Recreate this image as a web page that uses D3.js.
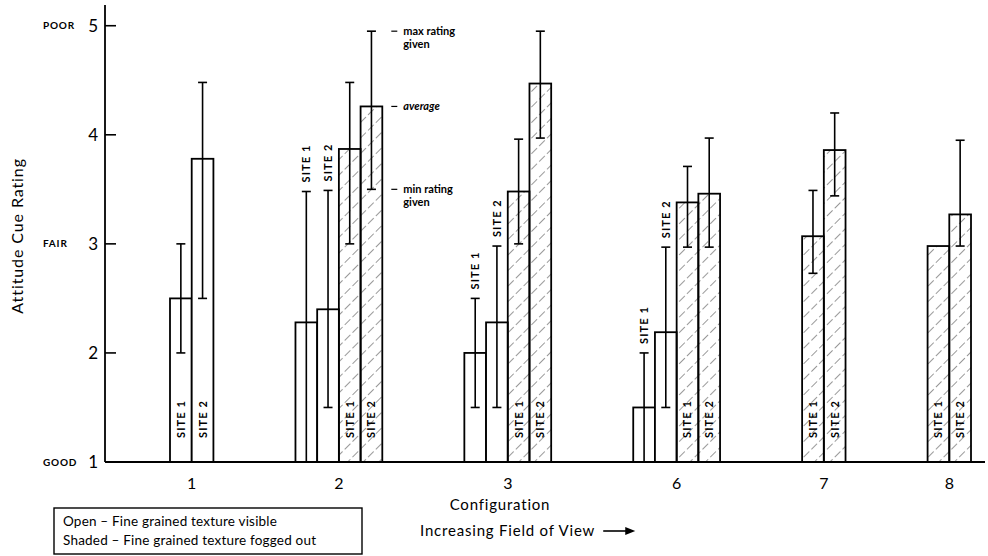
<!DOCTYPE html>
<html>
<head>
<meta charset="utf-8">
<script src="https://cdn.jsdelivr.net/npm/d3@7"></script>
<style>
body { margin: 0; background: #fff; }
svg { display: block; font-family: "Lato", "DejaVu Sans", sans-serif; }
</style>
</head>
<body>
<svg width="988" height="556"></svg>
<script>
// configurations along the x axis
const configs = ["1", "2", "3", "6", "7", "8"];

// open bars (fine grained texture visible)
const openSite1Avg = [2.5, 2.28, 2.0, 1.5, null, null];
const openSite1Min = [2.0, 1.0, 1.5, 1.0, null, null];
const openSite1Max = [3.0, 3.48, 2.5, 2.0, null, null];
const openSite2Avg = [3.78, 2.4, 2.28, 2.19, null, null];
const openSite2Min = [2.5, 1.5, 1.5, 1.5, null, null];
const openSite2Max = [4.48, 3.49, 2.98, 2.97, null, null];

// shaded bars (fine grained texture fogged out)
const shadedSite1Avg = [null, 3.87, 3.48, 3.38, 3.07, 2.98];
const shadedSite1Min = [null, 3.0, 3.0, 2.97, 2.73, null];
const shadedSite1Max = [null, 4.48, 3.96, 3.71, 3.49, null];
const shadedSite2Avg = [null, 4.26, 4.47, 3.46, 3.86, 3.27];
const shadedSite2Min = [null, 3.5, 3.97, 2.97, 3.44, 2.98];
const shadedSite2Max = [null, 4.95, 4.95, 3.97, 4.2, 3.95];

const ratingTicks = [1, 2, 3, 4, 5];
const ratingWords = ["GOOD", "", "FAIR", "", "POOR"];
const legendLines = ["Open \u2013 Fine grained texture visible", "Shaded \u2013 Fine grained texture fogged out"];
const noteLines = [["max rating", "given"], ["average"], ["min rating", "given"]];

const series = [
	{site: "SITE 1", shaded: false, avg: openSite1Avg, min: openSite1Min, max: openSite1Max},
	{site: "SITE 2", shaded: false, avg: openSite2Avg, min: openSite2Min, max: openSite2Max},
	{site: "SITE 1", shaded: true, avg: shadedSite1Avg, min: shadedSite1Min, max: shadedSite1Max},
	{site: "SITE 2", shaded: true, avg: shadedSite2Avg, min: shadedSite2Min, max: shadedSite2Max}
];

// lay the bars out side by side, with a fixed gap between configurations
const gapSlots = 3.78;
const bars = [];
const groups = [];
let slot = 0;
configs.forEach((c, i) => {
	const start = slot;
	series.forEach(s => {
		if (s.avg[i] == null) return;
		bars.push({config: c, site: s.site, shaded: s.shaded, avg: s.avg[i], min: s.min[i], max: s.max[i], slot: slot});
		slot += 1;
	});
	groups.push({config: c, mid: (start + slot) / 2});
	slot += gapSlots;
});
const totalSlots = slot - gapSlots;

const svg = d3.select("svg");
const axisX = 105, axisY = 462;

const x = d3.scaleLinear().domain([0, totalSlots]).range([170, 971]);
const y = d3.scaleLinear().domain([1, 5.19]).range([axisY, 5]);
const bw = x(1) - x(0);

// hatching for shaded bars
svg.append("defs").append("pattern")
	.attr("id", "hatch")
	.attr("patternUnits", "userSpaceOnUse")
	.attr("width", 11).attr("height", 11)
	.attr("patternTransform", "rotate(45)")
	.append("line")
		.attr("x1", 0).attr("y1", 0).attr("x2", 0).attr("y2", 11)
		.attr("stroke", "#333").attr("stroke-width", 1)
		.attr("stroke-dasharray", "8,3");

// bars
svg.selectAll("rect.bar")
	.data(bars)
	.enter().append("rect")
		.attr("class", "bar")
		.attr("x", d => x(d.slot))
		.attr("y", d => y(d.avg))
		.attr("width", bw)
		.attr("height", d => axisY - y(d.avg))
		.attr("fill", d => d.shaded ? "url(#hatch)" : "#fff")
		.attr("stroke", "#000")
		.attr("stroke-width", 1.8);

// error bars (min..max rating given)
const eb = bars.filter(d => d.min != null);
const cx = d => x(d.slot + 0.5);
svg.selectAll("line.err")
	.data(eb)
	.enter().append("line")
		.attr("class", "err")
		.attr("x1", cx).attr("x2", cx)
		.attr("y1", d => y(d.min)).attr("y2", d => y(d.max))
		.attr("stroke", "#000").attr("stroke-width", 1.6);
["min", "max"].forEach(k => {
	svg.selectAll("line.cap-" + k)
		.data(eb)
		.enter().append("line")
			.attr("class", "cap-" + k)
			.attr("x1", d => cx(d) - 4.5).attr("x2", d => cx(d) + 4.5)
			.attr("y1", d => y(d[k])).attr("y2", d => y(d[k]))
			.attr("stroke", "#000").attr("stroke-width", 1.6);
});

// site labels: inside bottom of bar, or above the error bar for short bars
const labelY = d => d.avg < 2.45 ? y(d.max) - 9 : axisY - 24;
svg.selectAll("text.site")
	.data(bars)
	.enter().append("text")
		.attr("class", "site")
		.attr("transform", d => `translate(${cx(d)},${labelY(d)}) rotate(-90)`)
		.attr("dy", "0.36em")
		.attr("font-size", 11)
		.attr("font-weight", "bold")
		.attr("letter-spacing", 1.1)
		.text(d => d.site);

// y axis
svg.append("line")
	.attr("x1", axisX).attr("x2", axisX)
	.attr("y1", y.range()[1]).attr("y2", axisY)
	.attr("stroke", "#000").attr("stroke-width", 1.8);
svg.selectAll("line.ytick")
	.data(ratingTicks.filter(t => t > 1))
	.enter().append("line")
		.attr("x1", axisX).attr("x2", axisX + 11)
		.attr("y1", d => y(d)).attr("y2", d => y(d))
		.attr("stroke", "#000").attr("stroke-width", 1.6);
svg.selectAll("text.ytick")
	.data(ratingTicks)
	.enter().append("text")
		.attr("x", 98).attr("y", d => y(d))
		.attr("dy", "0.36em")
		.attr("text-anchor", "end")
		.attr("font-size", 17)
		.text(d => d);
svg.selectAll("text.yword")
	.data(ratingTicks)
	.enter().append("text")
		.attr("x", 43).attr("y", d => y(d))
		.attr("dy", "0.36em")
		.attr("font-size", 10)
		.attr("font-weight", "bold")
		.attr("letter-spacing", 0.8)
		.text((d, i) => ratingWords[i]);
svg.append("text")
	.attr("transform", `translate(23,${y(3) - 8}) rotate(-90)`)
	.attr("text-anchor", "middle")
	.attr("font-size", 16)
	.attr("letter-spacing", 0.9)
	.text("Attitude Cue Rating");

// x axis
svg.append("line")
	.attr("x1", axisX).attr("x2", 985)
	.attr("y1", axisY).attr("y2", axisY)
	.attr("stroke", "#000").attr("stroke-width", 1.8);
svg.selectAll("text.xtick")
	.data(groups)
	.enter().append("text")
		.attr("x", d => x(d.mid))
		.attr("y", 489)
		.attr("text-anchor", "middle")
		.attr("font-size", 16)
		.text(d => d.config);
svg.append("text")
	.attr("x", 500).attr("y", 510)
	.attr("text-anchor", "middle")
	.attr("font-size", 15)
	.attr("letter-spacing", 0.8)
	.text("Configuration");
const inc = svg.append("text")
	.attr("x", 420).attr("y", 536)
	.attr("font-size", 15)
	.attr("letter-spacing", 0.8)
	.text("Increasing Field of View");
const incEnd = 420 + inc.node().getComputedTextLength() + 8;
svg.append("line")
	.attr("x1", incEnd).attr("x2", incEnd + 24)
	.attr("y1", 531).attr("y2", 531)
	.attr("stroke", "#000").attr("stroke-width", 1.6);
svg.append("path")
	.attr("d", `M${incEnd + 22},527 L${incEnd + 32},531 L${incEnd + 22},535 Z`)
	.attr("fill", "#000");

// legend box
svg.append("rect")
	.attr("x", 54).attr("y", 508)
	.attr("width", 308).attr("height", 46)
	.attr("fill", "none")
	.attr("stroke", "#000").attr("stroke-width", 1.4);
svg.selectAll("text.legend")
	.data(legendLines)
	.enter().append("text")
		.attr("x", 63)
		.attr("y", (d, i) => 526 + i * 19)
		.attr("font-size", 13.5)
		.attr("letter-spacing", 0.2)
		.text(d => d);

// notes beside config 2, site 2 shaded bar
const ref = bars.find(d => d.config === "2" && d.shaded && d.site === "SITE 2");
const noteVals = [ref.max, ref.avg, ref.min];
const nx = x(ref.slot + 1);
noteVals.forEach((v, i) => {
	svg.append("line")
		.attr("x1", nx + 9).attr("x2", nx + 15)
		.attr("y1", y(v)).attr("y2", y(v))
		.attr("stroke", "#000").attr("stroke-width", 1.2);
	const t = svg.append("text")
		.attr("x", nx + 21).attr("y", y(v))
		.attr("font-size", 11)
		.attr("font-weight", "bold")
		.attr("font-style", i === 1 ? "italic" : "normal");
	noteLines[i].forEach((line, j) => {
		t.append("tspan")
			.attr("x", nx + 21)
			.attr("dy", j === 0 ? "0.36em" : "1.15em")
			.text(line);
	});
});
</script>
</body>
</html>
